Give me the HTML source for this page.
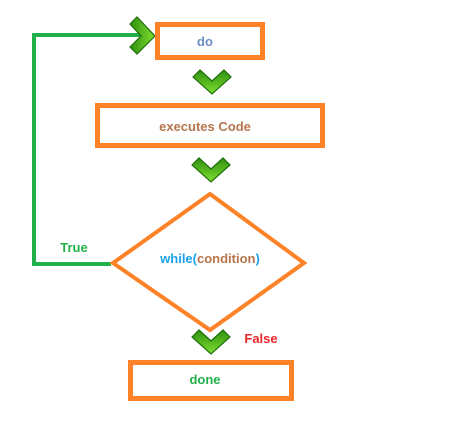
<!DOCTYPE html>
<html><head><style>
body{margin:0;background:#fff;width:451px;height:424px;overflow:hidden}
svg{display:block}
text{font-family:"Liberation Sans",sans-serif;font-weight:bold;font-size:13px;text-anchor:middle}
</style></head><body>
<svg width="451" height="424" viewBox="0 0 451 424">
<defs>
<linearGradient id="g" x1="0" y1="0" x2="0" y2="1"><stop offset="0" stop-color="#2f8f10"/><stop offset="1" stop-color="#7fe030"/></linearGradient>
<linearGradient id="gh" x1="0" y1="0" x2="1" y2="0"><stop offset="0" stop-color="#2f8f10"/><stop offset="1" stop-color="#7fe030"/></linearGradient>
</defs>
<polyline points="146,35 34,35 34,264 111,264" fill="none" stroke="#22b04b" stroke-width="4"/>
<polygon points="130,24 137,17 155,36 137,54 130,47 141,36" fill="url(#gh)" stroke="#1e6e0a" stroke-width="1.2"/>
<g fill="url(#g)" stroke="#1e6e0a" stroke-width="1.2">
<polygon points="193,77 200,70 212,81 224,70 231,77 212,94"/>
<polygon points="192,165 199,158 211,169 223,158 230,165 211,182"/>
<polygon points="192,337 199,330 211,341 223,330 230,337 211,354"/>
</g>
<g fill="none" stroke="#fe8227" stroke-width="5">
<rect x="157.5" y="24.5" width="105" height="33"/>
<rect x="97.5" y="105.5" width="225" height="40"/>
<rect x="130.5" y="362.5" width="161" height="36"/>
</g>
<polygon points="210,194 304,263 210,330 113,263" fill="none" stroke="#fe8227" stroke-width="4"/>
<text x="205" y="46" fill="#6a8fc8">do</text>
<text x="205" y="131" fill="#b5764d">executes Code</text>
<text x="210" y="263"><tspan fill="#1aa3e8">while(</tspan><tspan fill="#b5764d">condition</tspan><tspan fill="#1aa3e8">)</tspan></text>
<text x="74" y="252" fill="#22b04b">True</text>
<text x="261" y="343" fill="#e8262a">False</text>
<text x="205" y="384" fill="#22b04b">done</text>
</svg>
</body></html>
